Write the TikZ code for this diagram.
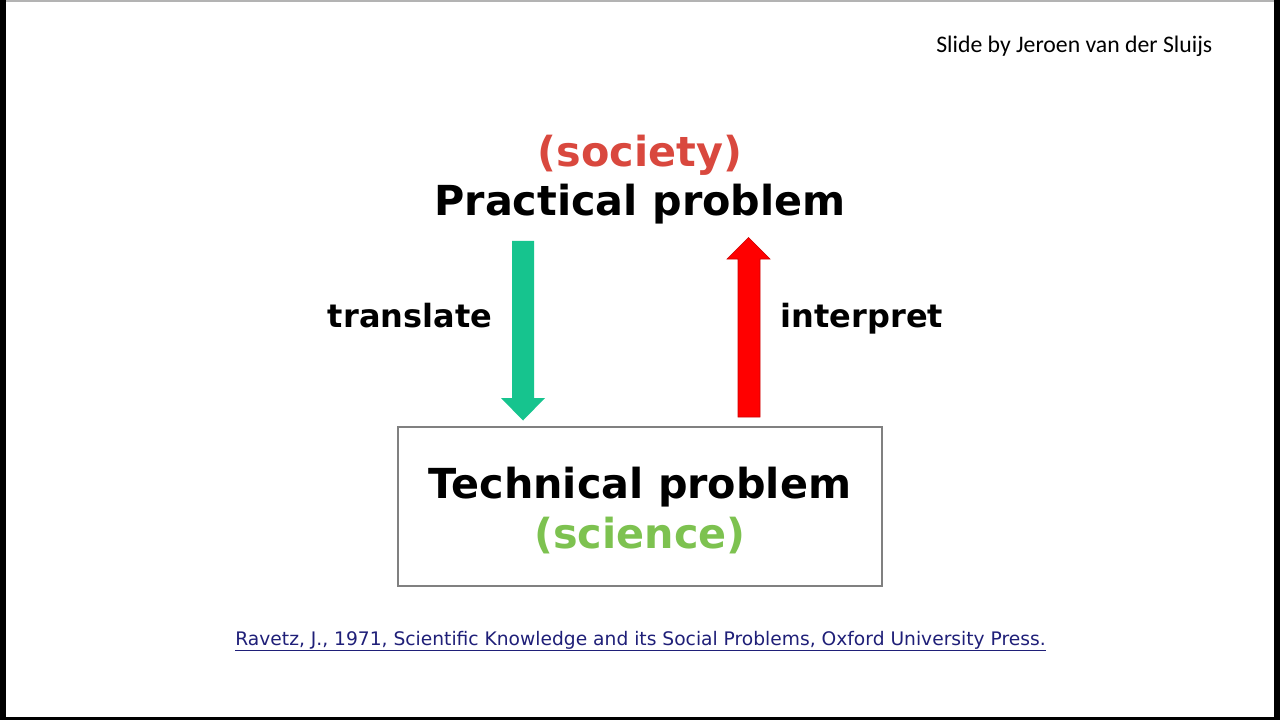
\documentclass[tikz,border=0pt]{standalone}
\usepackage{fontspec}
\setmainfont{DejaVu Sans}
\newfontfamily\calfont{Carlito}
\definecolor{arrgreen}{RGB}{22,196,142}
\definecolor{arrred}{RGB}{255,0,0}
\definecolor{socred}{RGB}{217,72,62}
\definecolor{scigreen}{RGB}{125,194,80}
\definecolor{citeblue}{RGB}{31,31,120}
\definecolor{boxgray}{RGB}{128,128,128}
\begin{document}
\begin{tikzpicture}[x=0.75pt,y=-0.75pt,
  title/.style={font=\fontsize{31}{36}\selectfont\bfseries, inner sep=0pt, anchor=base},
  side/.style={font=\fontsize{24}{28}\selectfont\bfseries, inner sep=0pt, anchor=base}]
\useasboundingbox (0,0) rectangle (1280,720);
\fill[black] (0,0) rectangle (1280,720);
\fill[boxgray!60] (6,0) rectangle (1274,2.5);
\fill[white] (6,2.5) rectangle (1274,717);

\node[anchor=base west, inner sep=0pt, font=\calfont\fontsize{17.8}{21}\selectfont] (credit) at (936,53) {Slide by Jeroen van der Sluijs};

\node[title, text=socred] (society) at (640,167) {(society)};
\node[title] (practical) at (640,215) {Practical problem};

\draw[boxgray, line width=1.1pt] (398,427) rectangle (882,586);
\node[title] (technical) at (640,498) {Technical problem};
\node[title, text=scigreen] (science) at (640,548) {(science)};

\node[side] (translate) at (410,327) {translate};
\node[side] (interpret) at (862,327) {interpret};

% green arrow (translate): down
\fill[arrgreen] (512,241) -- (534,241) -- (534,398) -- (545,398) -- (523,420.5) -- (501,398) -- (512,398) -- cycle;
% red arrow (interpret): up
\filldraw[fill=arrred, draw=red!80!black, line width=0.4pt] (738,417) -- (760,417) -- (760,259) -- (770,259) -- (748.5,237.5) -- (727,259) -- (738,259) -- cycle;

\node[anchor=base, inner sep=0pt, text=citeblue, font=\fontsize{14}{17}\selectfont] (cite) at (640.5,645) {\underline{Ravetz, J., 1971, Scientific Knowledge and its Social Problems, Oxford University Press.}};
\end{tikzpicture}
\end{document}
